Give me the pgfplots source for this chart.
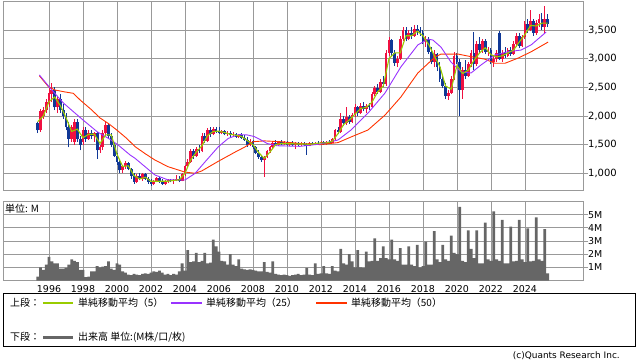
\documentclass[border=0pt]{standalone}
\usepackage{fontspec}
\setmainfont{DejaVu Sans}
\newfontfamily\jp{Noto Sans CJK JP}
\usepackage{pgfplots}
\pgfplotsset{compat=1.18}
\usepackage{pgfplotstable}

\definecolor{cup}{RGB}{240,16,64}
\definecolor{cdn}{RGB}{16,56,150}
\definecolor{maG}{RGB}{153,204,0}
\definecolor{maP}{RGB}{153,51,255}
\definecolor{maR}{RGB}{255,51,0}
\definecolor{volc}{RGB}{102,102,102}
\definecolor{gridc}{RGB}{153,153,153}

\pgfplotstableread{
i o h l c
1 1750 2120 1720 2080
2 2000 2150 1950 2100
3 2100 2300 2050 2250
4 2250 2480 2150 2400
5 2380 2570 2250 2450
7 2150 2350 2050 2300
12 1600 1850 1550 1800
13 1550 1950 1500 1900
16 1550 1800 1500 1750
18 1600 1750 1580 1700
20 1650 1720 1550 1700
22 1400 1500 1350 1450
23 1450 1750 1400 1700
24 1700 1900 1650 1850
30 1050 1150 1000 1120
31 1120 1210 1080 1180
35 850 980 830 960
37 900 1000 870 980
41 820 880 790 860
42 860 940 840 920
45 820 880 790 860
46 860 900 830 880
48 860 900 820 880
49 880 970 860 900
51 870 1000 860 980
52 980 1150 960 1120
53 1120 1250 1100 1200
54 1200 1420 1180 1380
56 1300 1450 1280 1420
58 1380 1700 1370 1650
60 1560 1790 1540 1760
62 1680 1800 1660 1770
65 1700 1760 1680 1740
67 1680 1730 1650 1710
69 1660 1720 1630 1690
71 1640 1690 1610 1670
75 1500 1600 1470 1560
80 1230 1300 940 1280
81 1280 1400 1260 1380
82 1380 1480 1360 1460
83 1460 1560 1440 1530
85 1500 1570 1480 1550
87 1510 1560 1490 1540
89 1490 1550 1470 1530
91 1500 1540 1420 1520
93 1500 1550 1480 1530
96 1480 1540 1470 1520
98 1510 1550 1490 1530
100 1520 1560 1500 1540
102 1510 1560 1500 1540
104 1530 1620 1520 1600
105 1600 1780 1580 1750
107 1720 2060 1700 1950
109 1880 2160 1850 1980
111 1900 2050 1880 2020
112 2020 2200 1990 2150
114 2050 2220 2030 2180
116 2120 2200 2060 2180
118 2150 2420 2140 2380
119 2380 2520 2350 2480
121 2420 2650 2400 2600
123 2550 3150 2530 3100
124 3100 3380 3050 3320
127 2920 3050 2850 3000
128 3000 3400 2980 3350
129 3350 3550 3300 3500
131 3350 3500 3320 3450
133 3400 3580 3380 3520
137 3300 3400 3200 3350
140 2950 3150 2850 3080
145 2350 2450 2280 2400
146 2400 2700 2380 2650
147 2650 3120 2620 3050
150 2450 2850 2300 2800
152 2700 2950 2680 2900
153 2900 3150 2850 3100
155 2900 3300 2880 3250
157 3150 3350 3100 3300
159 3120 3200 3050 3150
161 2950 3050 2850 3000
162 3000 3150 2950 3100
164 3000 3150 2950 3100
166 3050 3180 3030 3150
168 3080 3300 3060 3250
169 3250 3450 3200 3400
171 3220 3420 3200 3380
172 3380 3650 3350 3600
174 3500 3850 3480 3650
176 3450 3680 3420 3620
177 3620 3780 3550 3700
179 3550 3920 3450 3700
}\upT

\pgfplotstableread{
i o h l c
0 1870 1900 1700 1750
6 2450 2500 2100 2150
8 2300 2380 2050 2100
9 2100 2200 1950 2000
10 2000 2050 1750 1800
11 1800 1900 1450 1600
14 1900 1950 1550 1600
15 1600 1650 1400 1500
17 1750 1800 1550 1600
19 1700 1750 1600 1650
21 1700 1720 1250 1400
25 1850 1880 1600 1650
26 1650 1700 1450 1500
27 1500 1550 1280 1300
28 1300 1350 1150 1200
29 1200 1250 1000 1050
32 1180 1200 1050 1080
33 1080 1100 900 950
34 950 1000 820 850
36 960 1000 880 900
38 980 1010 880 900
39 900 940 820 850
40 850 900 780 820
43 920 930 830 850
44 850 900 800 820
47 880 900 840 860
50 900 950 840 870
55 1380 1420 1250 1300
57 1420 1500 1350 1380
59 1650 1700 1520 1560
61 1760 1810 1640 1680
63 1770 1810 1700 1740
64 1740 1800 1690 1700
66 1740 1760 1660 1680
68 1710 1740 1640 1660
70 1690 1710 1620 1640
72 1670 1700 1600 1620
73 1620 1660 1560 1580
74 1580 1640 1460 1500
76 1560 1580 1420 1450
77 1450 1480 1330 1360
78 1360 1400 1250 1280
79 1280 1310 1200 1230
84 1530 1580 1480 1500
86 1550 1580 1490 1510
88 1540 1560 1470 1490
90 1530 1560 1480 1500
92 1520 1540 1480 1500
94 1530 1550 1480 1500
95 1510 1530 1320 1480
97 1520 1550 1490 1510
99 1530 1560 1500 1520
101 1540 1560 1500 1510
103 1540 1580 1510 1530
106 1750 1800 1680 1720
108 1950 2000 1820 1880
110 1980 2020 1860 1900
113 2150 2180 2000 2050
115 2180 2250 2080 2120
117 2180 2230 2100 2150
120 2480 2560 2380 2420
122 2600 2700 2500 2550
125 3320 3350 3050 3100
126 3100 3150 2880 2920
130 3500 3560 3300 3350
132 3450 3550 3350 3400
134 3520 3590 3420 3480
135 3480 3560 3400 3440
136 3440 3500 3250 3300
138 3350 3380 3080 3120
139 3120 3200 2900 2950
141 3080 3100 2780 2850
142 2850 2950 2600 2650
143 2650 2700 2480 2520
144 2520 2580 2300 2350
148 3050 3100 2900 2950
149 2950 3000 2000 2450
151 2800 2980 2650 2700
154 3100 3470 2800 2900
156 3250 3380 3100 3150
158 3300 3350 3080 3120
160 3150 3180 2900 2950
163 3450 3480 2980 3000
165 3100 3200 3020 3050
167 3150 3210 3050 3080
170 3400 3440 3180 3220
173 3600 3700 3450 3500
175 3650 3700 3400 3450
178 3700 3790 3500 3550
180 3700 3780 3550 3600
}\dnT

\begin{document}
\begin{tikzpicture}
\path[use as bounding box] (0bp,0bp) rectangle (638bp,-362bp);

\begin{axis}[
  at={(3bp,-190bp)}, anchor=south west,
  scale only axis, width=580bp, height=189bp,
  xmin=-12.24, xmax=192.5, ymin=708, ymax=4006,
  axis line style={draw=gridc, line width=0.8bp},
  grid=major, grid style={draw=gridc, line width=0.8bp},
  xtick={4,16,...,172}, xticklabels={},
  xtick style={draw=none},
  ytick={1000,1500,...,3500},
  ytick pos=right, yticklabel pos=right,
  tick align=outside, major tick length=5bp,
  ytick style={draw=gridc, line width=0.8bp},
  yticklabel style={font=\fontsize{10}{12}\selectfont, anchor=west, inner sep=0pt},
  /pgf/number format/1000 sep={,},
  /pgf/number format/assume math mode=true,
  clip=true,
]
% up candles
\addplot[draw=none, mark=none, forget plot, error bars/.cd, y dir=plus, y explicit, error mark=none,
  error bar style={draw=cup, line width=0.9bp}]
  table[x=i, y=l, y error expr=\thisrow{h}-\thisrow{l}] {\upT};
\addplot[draw=none, mark=none, forget plot, error bars/.cd, y dir=plus, y explicit, error mark=none,
  error bar style={draw=cup, line width=2.7bp}]
  table[x=i, y=o, y error expr=\thisrow{c}-\thisrow{o}] {\upT};
% down candles
\addplot[draw=none, mark=none, forget plot, error bars/.cd, y dir=plus, y explicit, error mark=none,
  error bar style={draw=cdn, line width=0.9bp}]
  table[x=i, y=l, y error expr=\thisrow{h}-\thisrow{l}] {\dnT};
\addplot[draw=none, mark=none, forget plot, error bars/.cd, y dir=plus, y explicit, error mark=none,
  error bar style={draw=cdn, line width=2.7bp}]
  table[x=i, y=c, y error expr=\thisrow{o}-\thisrow{c}] {\dnT};
% MA50
\addplot[maR, line width=0.9bp, mark=none] coordinates {
(0.6,2700) (3.8,2511) (6.1,2453) (9.1,2424) (12.6,2395) (15,2278) (19.1,2104) (22,1965) (24.9,1871) (27.8,1760) (31.4,1610) (34.4,1464) (38,1340) (41.4,1231) (46,1115) (52,1020) (55.6,1000) (57.9,1040) (63.8,1210) (69.7,1370) (73.2,1460) (76,1550) (80,1565) (86,1550) (92.6,1520) (99.7,1500) (106,1535) (110.6,1633) (116.6,1755) (122.6,2015) (128.2,2330) (134.2,2750) (140.3,3030) (142.4,3080) (148.4,3080) (151.9,3045) (157.9,2990) (161.4,2920) (165,2920) (169.6,3010) (174.2,3120) (180.2,3290)};
% MA25
\addplot[maP, line width=0.9bp, mark=none] coordinates {
(0.6,2715) (4.35,2490) (9,2230) (12.6,2075) (16,1930) (21,1725) (25.6,1590) (28.5,1490) (32.6,1320) (34.4,1260) (37.9,1115) (41.4,970) (46,885) (52,882) (55.6,1000) (59.1,1200) (63.8,1464) (67.3,1609) (71,1675) (73.9,1670) (76.5,1640) (78.5,1590) (81,1520) (84.5,1480) (92.6,1470) (99.7,1510) (106,1580) (110.6,1755) (116.6,2050) (122.6,2400) (128.2,2855) (134.2,3240) (137.8,3340) (139.5,3325) (142.4,3200) (145.9,2940) (149.4,2767) (153,2750) (156.5,2890) (161.4,3064) (166,3120) (170.6,3150) (174.2,3240) (179.5,3465)};
% MA5
\addplot[maG, line width=1.1bp, mark=none] coordinates {
(0,1900) (2,2000) (4,2250) (6,2330) (8,2180) (10,1970) (12,1730) (14,1770) (16,1620) (18,1680) (20,1680) (22,1520) (24,1670) (26,1670) (28,1330) (30,1120) (32,1130) (34,960) (36,900) (38,930) (40,860) (42,860) (44,860) (46,860) (48,875) (50,885) (52,1000) (54,1230) (56,1370) (58,1480) (60,1660) (62,1730) (64,1735) (66,1710) (68,1680) (70,1665) (72,1640) (74,1570) (76,1500) (78,1360) (80,1260) (82,1370) (84,1500) (86,1520) (88,1515) (90,1515) (92,1510) (94,1510) (96,1505) (98,1520) (100,1530) (102,1530) (104,1560) (106,1690) (108,1850) (110,1930) (112,2030) (114,2130) (116,2150) (118,2240) (120,2420) (122,2520) (124,3000) (126,3100) (128,3100) (130,3400) (132,3400) (134,3480) (136,3400) (138,3250) (140,3050) (142,2860) (144,2520) (146,2470) (148,2880) (150,2740) (152,2800) (154,2970) (156,3100) (158,3190) (160,3070) (162,3030) (164,3050) (166,3100) (168,3150) (170,3290) (172,3420) (174,3580) (176,3570) (178,3620) (180,3620)};
\end{axis}

\begin{axis}[
  at={(3bp,-280.5bp)}, anchor=south west,
  scale only axis, width=580bp, height=79bp,
  xmin=-12.24, xmax=192.5, ymin=0, ymax=6,
  axis line style={draw=gridc, line width=0.8bp},
  grid=major, grid style={draw=gridc, line width=0.8bp},
  xtick={4,16,...,172},
  xticklabels={1996,1998,2000,2002,2004,2006,2008,2010,2012,2014,2016,2018,2020,2022,2024},
  xtick style={draw=none},
  xticklabel style={font=\fontsize{9.5}{11}\selectfont, anchor=north, inner sep=0pt},
  ytick={1,2,3,4,5},
  yticklabels={1M,2M,3M,4M,5M},
  ytick pos=right, yticklabel pos=right,
  tick align=outside, major tick length=5bp,
  ytick style={draw=gridc, line width=0.8bp},
  yticklabel style={font=\fontsize{9.5}{11}\selectfont, anchor=west, inner sep=0pt},
]
\addplot[ybar, bar width=1, fill=volc, draw=none] coordinates {
(0,0.3) (1,1.0) (2,0.8) (3,1.2) (4,1.8) (5,1.45) (6,1.3) (7,1.3) (8,0.9) (9,0.9)
(10,0.95) (11,1.2) (12,1.6) (13,1.5) (14,1.4) (15,0.8) (16,0.8) (17,0.25) (18,0.3) (19,0.7)
(20,0.7) (21,1.1) (22,1.0) (23,1.05) (24,1.1) (25,1.45) (26,0.9) (27,0.8) (28,1.3) (29,1.2)
(30,0.7) (31,0.6) (32,0.45) (33,0.4) (34,0.5) (35,0.45) (36,0.4) (37,0.5) (38,0.55) (39,0.5)
(40,0.6) (41,0.7) (42,0.65) (43,0.75) (44,0.6) (45,0.45) (46,0.5) (47,0.4) (48,0.5) (49,0.45)
(50,0.7) (51,1.3) (52,0.75) (53,2.3) (54,1.4) (55,1.45) (56,2.1) (57,1.4) (58,1.5) (59,2.1)
(60,1.3) (61,1.35) (62,3.1) (63,2.6) (64,2.2) (65,1.5) (66,1.45) (67,1.2) (68,2.0) (69,1.2)
(70,1.1) (71,1.6) (72,0.9) (73,0.85) (74,0.8) (75,0.85) (76,0.8) (77,0.75) (78,0.7) (79,0.7)
(80,1.4) (81,0.65) (82,0.6) (83,1.45) (84,0.5) (85,0.45) (86,0.4) (87,0.45) (88,0.4) (89,0.35)
(90,0.4) (91,0.45) (92,0.5) (93,0.4) (94,0.45) (95,0.95) (96,0.45) (97,0.4) (98,1.3) (99,0.5)
(100,0.55) (101,1.1) (102,0.55) (103,0.5) (104,1.1) (105,0.75) (106,0.7) (107,2.4) (108,1.3) (109,1.2)
(110,2.0) (111,1.45) (112,1.0) (113,2.3) (114,1.0) (115,0.95) (116,2.2) (117,1.45) (118,1.5) (119,3.2)
(120,1.5) (121,1.7) (122,2.6) (123,1.7) (124,1.6) (125,3.1) (126,1.6) (127,1.5) (128,2.45) (129,1.2)
(130,1.2) (131,2.6) (132,1.2) (133,1.1) (134,2.7) (135,1.0) (136,1.1) (137,2.95) (138,1.2) (139,1.2)
(140,3.75) (141,1.6) (142,1.4) (143,2.7) (144,1.6) (145,1.5) (146,3.4) (147,2.1) (148,2.0) (149,5.6)
(150,1.5) (151,1.4) (152,3.8) (153,2.4) (154,1.7) (155,3.8) (156,1.3) (157,1.3) (158,4.4) (159,1.6)
(160,1.5) (161,5.25) (162,1.6) (163,1.5) (164,4.6) (165,1.3) (166,1.3) (167,4.1) (168,1.45) (169,1.5)
(170,4.6) (171,1.6) (172,1.4) (173,3.95) (174,1.45) (175,1.5) (176,4.8) (177,1.6) (178,1.5) (179,3.9)
(180,0.55)};
\end{axis}

\node[anchor=west, inner sep=0pt, font=\jp\fontsize{10}{12}\selectfont] at (5bp,-209bp) {単位: M};

% legend
\draw[black, line width=0.8bp] (3bp,-293bp) rectangle (635bp,-346bp);
\node[anchor=west, inner sep=0pt, font=\jp\fontsize{10}{12}\selectfont] at (10bp,-303bp) {上段：};
\draw[maG, line width=1.2bp] (43bp,-303bp) -- (73bp,-303bp);
\node[anchor=west, inner sep=0pt, font=\jp\fontsize{10}{12}\selectfont] at (78bp,-303bp) {単純移動平均（5）};
\draw[maP, line width=1.2bp] (171bp,-303bp) -- (202bp,-303bp);
\node[anchor=west, inner sep=0pt, font=\jp\fontsize{10}{12}\selectfont] at (206bp,-303bp) {単純移動平均（25）};
\draw[maR, line width=1.2bp] (316bp,-303bp) -- (347bp,-303bp);
\node[anchor=west, inner sep=0pt, font=\jp\fontsize{10}{12}\selectfont] at (351bp,-303bp) {単純移動平均（50）};
\node[anchor=west, inner sep=0pt, font=\jp\fontsize{10}{12}\selectfont] at (10bp,-337bp) {下段：};
\draw[volc, line width=3bp] (43bp,-337bp) -- (73bp,-337bp);
\node[anchor=west, inner sep=0pt, font=\jp\fontsize{10}{12}\selectfont] at (78bp,-337bp) {出来高 単位:(M株/口/枚)};
\node[anchor=east, inner sep=0pt, font=\fontsize{9}{11}\selectfont] at (620bp,-356bp) {(c)Quants Research Inc.};
\end{tikzpicture}
\end{document}
